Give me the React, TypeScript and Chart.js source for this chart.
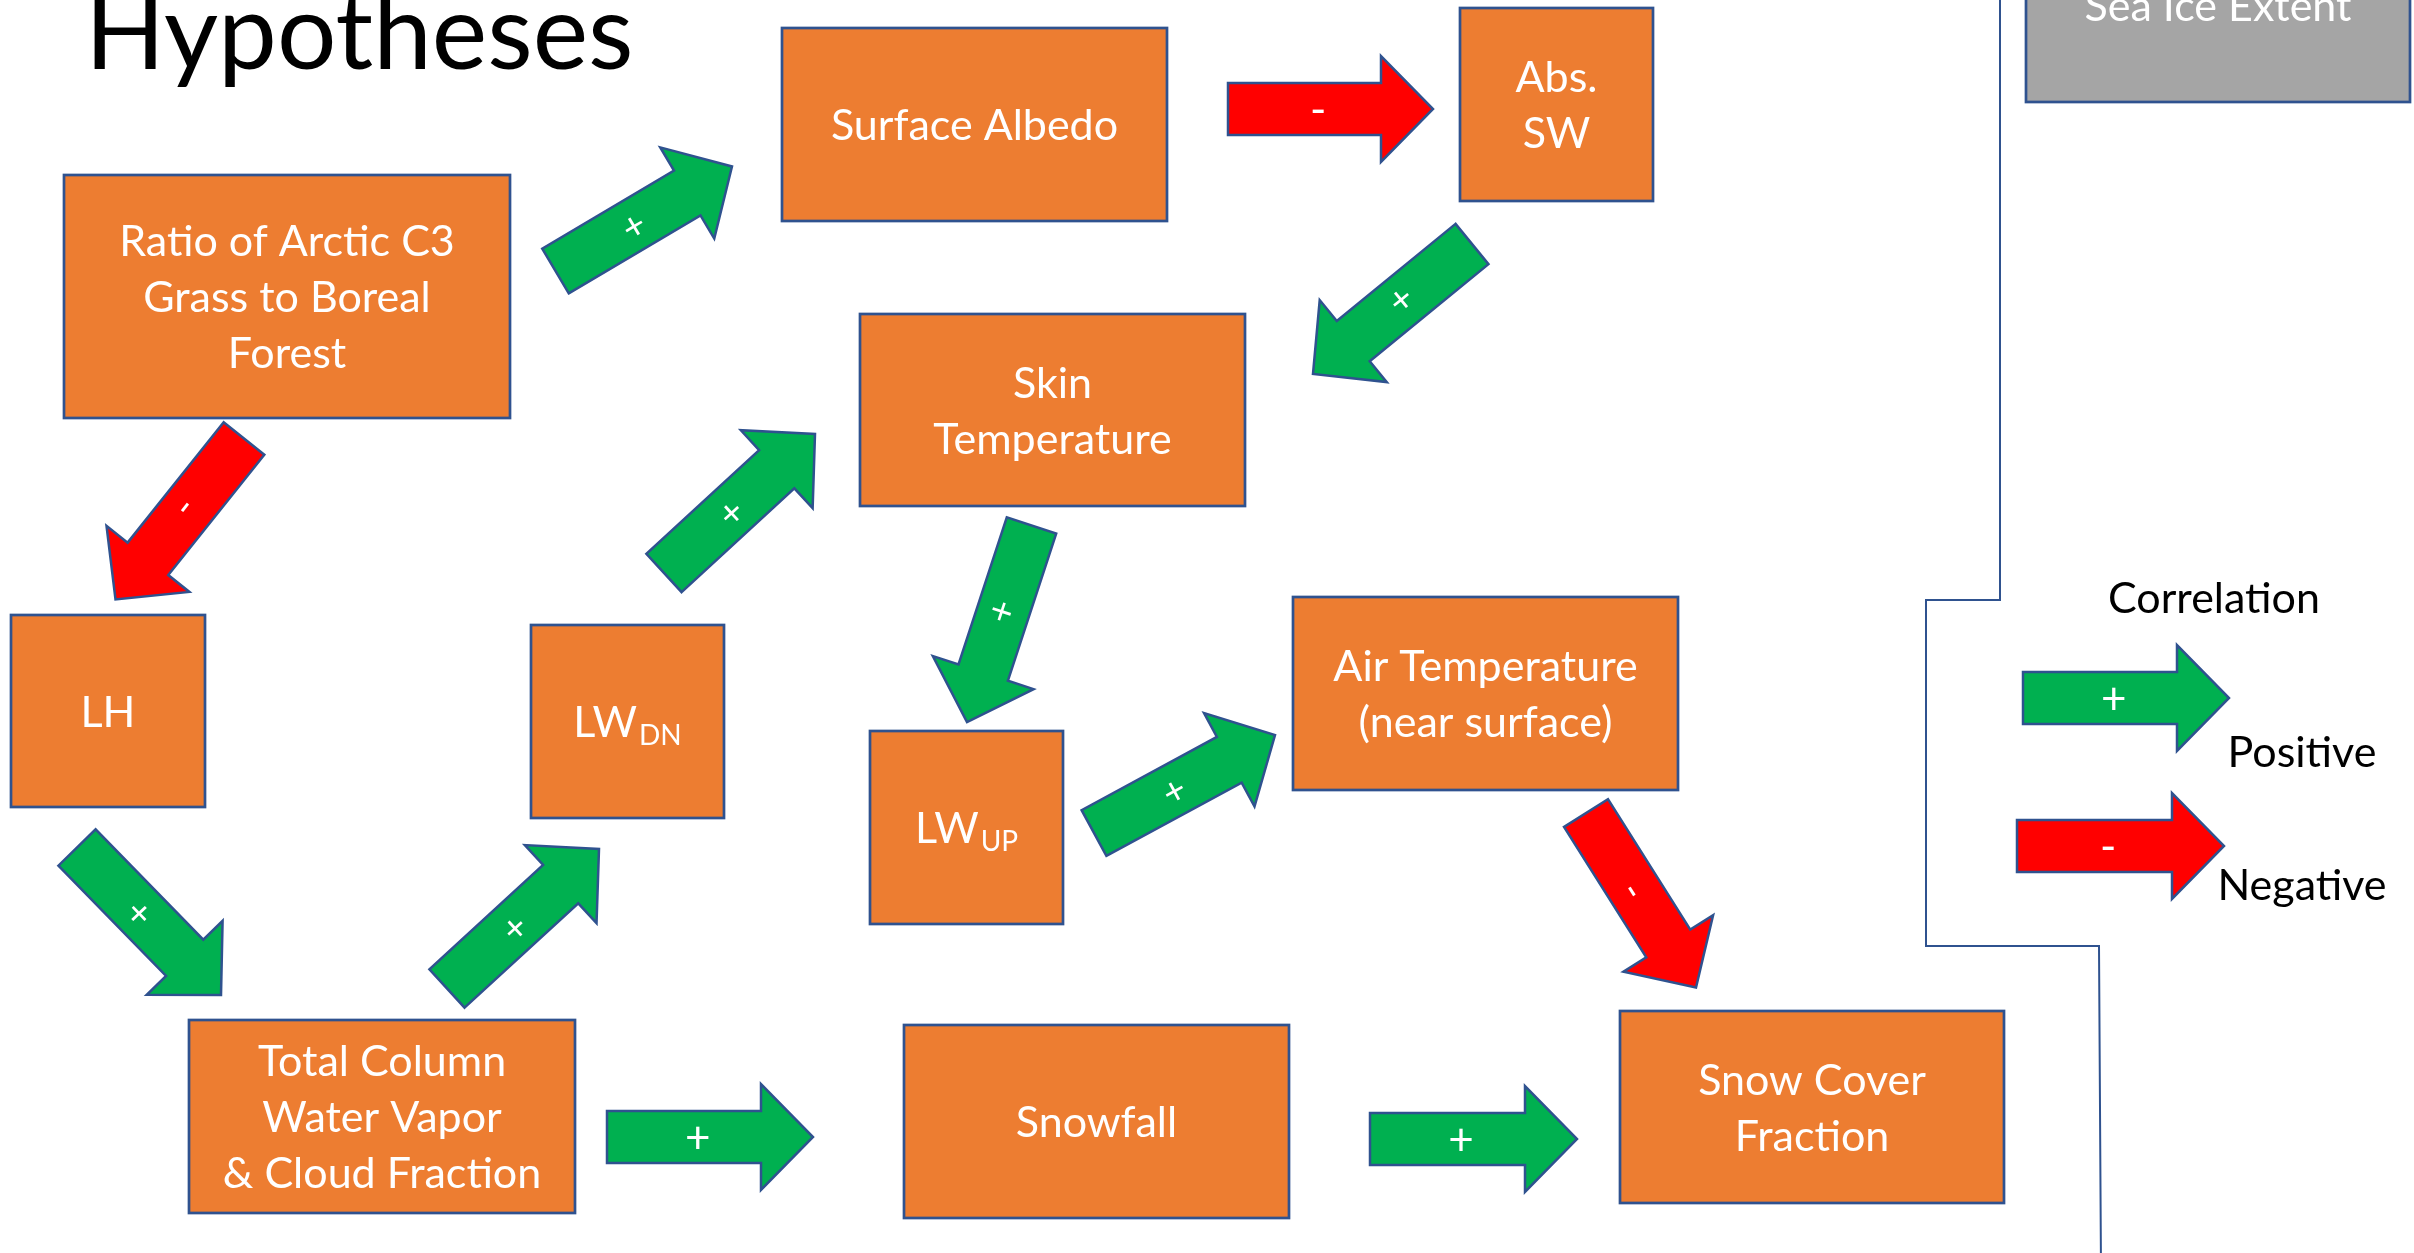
import React, { useEffect, useRef } from "react";
import { Chart, registerables } from "chart.js";

Chart.register(...registerables);

// ---- Diagram data (slide coordinates, 2414 x 1253) ----
const titleText = "Hypotheses";

const boxLabels = [
  "Ratio of Arctic C3\nGrass to Boreal\nForest",
  "Surface Albedo",
  "Abs.\nSW",
  "Skin\nTemperature",
  "LH",
  "LW",
  "LW",
  "Air Temperature\n(near surface)",
  "Total Column\nWater Vapor\n& Cloud Fraction",
  "Snowfall",
  "Snow Cover\nFraction",
  "Sea Ice Extent",
];
const boxSubscripts = ["", "", "", "", "", "DN", "UP", "", "", "", "", ""];
const boxLeft = [64, 782, 1460, 860, 11, 531, 870, 1293, 189, 904, 1620, 2026];
const boxRight = [510, 1167, 1653, 1245, 205, 724, 1063, 1678, 575, 1289, 2004, 2410];
const boxTop = [175, 28, 8, 314, 615, 625, 731, 597, 1020, 1025, 1011, -91];
const boxBottom = [418, 221, 201, 506, 807, 818, 924, 790, 1213, 1218, 1203, 102];
const boxActive = [true, true, true, true, true, true, true, true, true, true, true, false];

const arrowTailX = [555.5, 1228, 1472, 244, 77, 447, 664, 1031.5, 1094, 1586, 607, 1370];
const arrowTailY = [271, 109, 244, 438.5, 847.5, 988.5, 573, 525.5, 833, 813, 1137, 1139];
const arrowTipX = [732, 1433, 1313, 115.5, 221, 599, 815, 967, 1275, 1696, 813, 1577];
const arrowTipY = [166.5, 109, 374, 599.5, 995, 849, 434, 722, 735, 987.5, 1137, 1139];
const arrowSigns = ["+", "-", "+", "-", "+", "+", "+", "+", "+", "-", "+", "+"];

const legendTitle = "Correlation";
const legendSigns = ["+", "-"];
const legendLabels = ["Positive", "Negative"];
const legendTailX = [2023, 2017];
const legendTipX = [2229, 2224];
const legendArrowY = [698, 846];
const legendLabelX = [2302, 2302];
const legendLabelY = [767, 900];

const dividerX = [2000, 2000, 1926, 1926, 2099, 2101];
const dividerY = [-10, 600, 600, 946, 946, 1270];

// ---- Styles ----
const ORANGE = "#ED7D31";
const GREY = "#A5A5A5";
const EDGE = "#2F528F";
const GREEN = "#00B050";
const RED = "#FF0000";
const FONT = "Lato, 'Open Sans', sans-serif";
const BOX_FONT_SIZE = 43;
const LINE_HEIGHT = 56;
const SHAFT_W = 52;
const HEAD_W = 106;
const HEAD_L = 52;

function drawArrow(ctx: CanvasRenderingContext2D, tx: number, ty: number, px: number, py: number, sign: string) {
  const dx = px - tx;
  const dy = py - ty;
  const len = Math.hypot(dx, dy);
  const ux = dx / len;
  const uy = dy / len;
  const nx = -uy;
  const ny = ux;
  const bx = px - ux * HEAD_L;
  const by = py - uy * HEAD_L;
  const s = SHAFT_W / 2;
  const h = HEAD_W / 2;
  ctx.save();
  ctx.beginPath();
  ctx.moveTo(tx + nx * s, ty + ny * s);
  ctx.lineTo(bx + nx * s, by + ny * s);
  ctx.lineTo(bx + nx * h, by + ny * h);
  ctx.lineTo(px, py);
  ctx.lineTo(bx - nx * h, by - ny * h);
  ctx.lineTo(bx - nx * s, by - ny * s);
  ctx.lineTo(tx - nx * s, ty - ny * s);
  ctx.closePath();
  ctx.fillStyle = sign === "+" ? GREEN : RED;
  ctx.fill();
  ctx.lineWidth = 2.5;
  ctx.strokeStyle = EDGE;
  ctx.lineJoin = "miter";
  ctx.stroke();
  // label
  const lx = tx + dx * 0.44;
  const ly = ty + dy * 0.44;
  const horizontal = Math.abs(dy) < 1;
  const size = horizontal ? 44 : 38;
  ctx.translate(lx, ly);
  ctx.rotate(Math.atan2(dy, dx));
  ctx.fillStyle = "#FFFFFF";
  ctx.font = `${size}px ${FONT}`;
  ctx.textAlign = "center";
  ctx.textBaseline = "alphabetic";
  ctx.fillText(sign, 0, size * 0.3 + 3);
  ctx.restore();
}

const diagramPlugin = {
  id: "diagram",
  afterDatasetsDraw(chart: any) {
    const ctx: CanvasRenderingContext2D = chart.ctx;
    const xs = chart.scales.x;
    const ys = chart.scales.y;
    const X = (v: number) => xs.getPixelForValue(v);
    const Y = (v: number) => ys.getPixelForValue(v);

    // title
    ctx.save();
    ctx.fillStyle = "#000000";
    ctx.font = `105px ${FONT}`;
    ctx.textAlign = "left";
    ctx.textBaseline = "alphabetic";
    ctx.fillText(titleText, X(85), Y(69), 550);
    ctx.restore();

    // boxes
    boxLabels.forEach((label, i) => {
      const x0 = X(boxLeft[i]);
      const x1 = X(boxRight[i]);
      const y0 = Y(boxTop[i]);
      const y1 = Y(boxBottom[i]);
      ctx.save();
      ctx.fillStyle = boxActive[i] ? ORANGE : GREY;
      ctx.fillRect(x0, y0, x1 - x0, y1 - y0);
      ctx.lineWidth = 2.7;
      ctx.strokeStyle = EDGE;
      ctx.strokeRect(x0, y0, x1 - x0, y1 - y0);
      const cx = (x0 + x1) / 2;
      const cy = (y0 + y1) / 2;
      const lines = label.split("\n");
      ctx.fillStyle = "#FFFFFF";
      ctx.textBaseline = "alphabetic";
      if (boxSubscripts[i]) {
        ctx.font = `${BOX_FONT_SIZE}px ${FONT}`;
        const wMain = ctx.measureText(label).width;
        ctx.font = `28px ${FONT}`;
        const wSub = ctx.measureText(boxSubscripts[i]).width;
        const start = cx - (wMain + 2 + wSub) / 2;
        ctx.textAlign = "left";
        ctx.font = `${BOX_FONT_SIZE}px ${FONT}`;
        ctx.fillText(label, start, cy + 15.5);
        ctx.font = `28px ${FONT}`;
        ctx.fillText(boxSubscripts[i], start + wMain + 2, cy + 23.5);
      } else {
        ctx.font = `${BOX_FONT_SIZE}px ${FONT}`;
        ctx.textAlign = "center";
        lines.forEach((ln, k) => {
          const by = cy + 15.5 + (k - (lines.length - 1) / 2) * LINE_HEIGHT;
          ctx.fillText(ln, cx, by);
        });
      }
      ctx.restore();
    });

    // arrows
    arrowSigns.forEach((sign, i) => {
      drawArrow(ctx, X(arrowTailX[i]), Y(arrowTailY[i]), X(arrowTipX[i]), Y(arrowTipY[i]), sign);
    });

    // legend
    ctx.save();
    ctx.fillStyle = "#000000";
    ctx.font = `${BOX_FONT_SIZE}px ${FONT}`;
    ctx.textAlign = "center";
    ctx.textBaseline = "alphabetic";
    ctx.fillText(legendTitle, X(2214), Y(613));
    ctx.restore();
    legendSigns.forEach((sign, i) => {
      drawArrow(ctx, X(legendTailX[i]), Y(legendArrowY[i]), X(legendTipX[i]), Y(legendArrowY[i]), sign);
      ctx.save();
      ctx.fillStyle = "#000000";
      ctx.font = `${BOX_FONT_SIZE}px ${FONT}`;
      ctx.textAlign = "center";
      ctx.textBaseline = "alphabetic";
      ctx.fillText(legendLabels[i], X(legendLabelX[i]), Y(legendLabelY[i]));
      ctx.restore();
    });
  },
};

export default function App() {
  const ref = useRef<HTMLCanvasElement>(null);
  useEffect(() => {
    const canvas = ref.current;
    if (!canvas) return;
    const chart = new Chart(canvas, {
      type: "scatter",
      data: {
        datasets: [
          {
            data: dividerX.map((x, i) => ({ x, y: dividerY[i] })),
            showLine: true,
            borderColor: EDGE,
            borderWidth: 2,
            pointRadius: 0,
            fill: false,
            tension: 0,
          },
        ],
      },
      options: {
        responsive: false,
        animation: false,
        devicePixelRatio: 1,
        events: [],
        layout: { padding: 0 },
        plugins: {
          legend: { display: false },
          tooltip: { enabled: false },
          title: { display: false },
        },
        scales: {
          x: { type: "linear", min: 0, max: 2414, display: false },
          y: { type: "linear", min: 0, max: 1253, reverse: true, display: false },
        },
      },
      plugins: [diagramPlugin],
    } as any);
    return () => chart.destroy();
  }, []);
  return (
    <div style={{ position: "absolute", left: 0, top: 0, width: 2414, height: 1253, background: "#FFFFFF" }}>
      <canvas ref={ref} width={2414} height={1253} style={{ display: "block", width: 2414, height: 1253 }} />
    </div>
  );
}
